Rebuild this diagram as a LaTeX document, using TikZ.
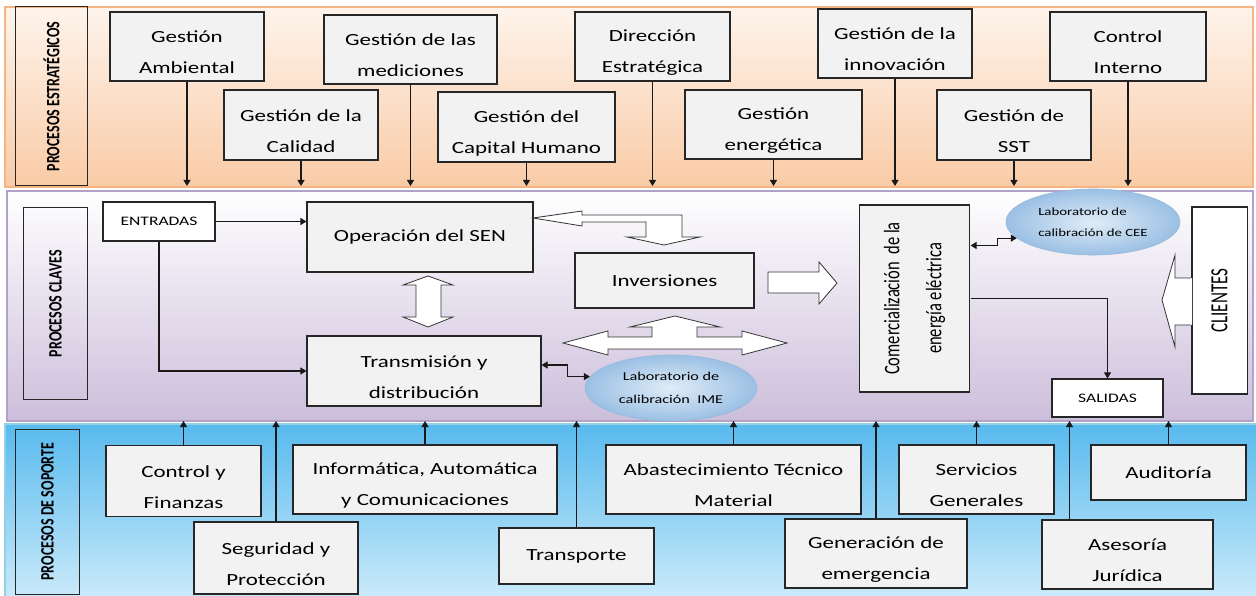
\documentclass[tikz,border=0pt]{standalone}
\usepackage{fontspec}
\setmainfont{Carlito}[FakeStretch=1.35]
\newfontfamily\plainfont{Carlito}
\usetikzlibrary{shapes.geometric, arrows.meta}
\newcommand\lup{\rule{0pt}{24pt}}

\begin{document}
\begin{tikzpicture}[x=1pt, y=-1pt, >={Triangle[length=6pt,width=7pt]},
  proc/.style={draw=black!85, line width=1.1pt, fill=boxgray, align=center, inner sep=0pt, font=\fontsize{17}{31}\selectfont},
  iobox/.style={draw=black!85, line width=1.1pt, fill=white, inner sep=0pt, font=\fontsize{13}{15}\selectfont},
  lab/.style={ellipse, draw=labline, line width=0.6pt, shading=radial, inner color=labin, outer color=labout, inner sep=0pt},
  bandlbl/.style={draw=black!85, line width=1pt, rotate=90, yscale=1.35, inner sep=0pt, font=\plainfont\bfseries\fontsize{14}{16}\selectfont},
  link/.style={line width=1.1pt, draw=black!90},
  blk/.style={draw=black!80, line width=0.8pt, fill=white, line join=miter}]
	\definecolor{boxgray}{RGB}{242,242,242}
	\definecolor{orline}{RGB}{246,180,130}
	\definecolor{ortop}{RGB}{254,244,236}
	\definecolor{orbot}{RGB}{249,203,166}
	\definecolor{puline}{RGB}{178,162,199}
	\definecolor{pubot}{RGB}{204,190,219}
	\definecolor{blline}{RGB}{146,208,232}
	\definecolor{bltop}{RGB}{88,186,238}
	\definecolor{blbot}{RGB}{205,235,250}
	\definecolor{labin}{RGB}{224,236,247}
	\definecolor{labout}{RGB}{155,192,228}
	\definecolor{labline}{RGB}{150,185,220}
	\useasboundingbox (0,0) rectangle (1256,596);
	\draw[draw=orline, line width=2.5pt, top color=ortop, bottom color=orbot] (5,7) rectangle (1253,187);
	\draw[draw=puline, line width=2.5pt, top color=white, bottom color=pubot] (7,191) rectangle (1253,421);
	\draw[draw=blline, line width=2pt, top color=bltop, bottom color=blbot] (5,424) rectangle (1258,602);
	\coordinate (sbot) at (0,186);
	\coordinate (stop) at (0,421);
	\node (lbe) at (51.5,96.5) [bandlbl, minimum width=179pt, minimum height=54pt] {PROCESOS ESTRATÉGICOS};
	\node (lbc) at (55.5,303.5) [bandlbl, minimum width=191pt, minimum height=48pt] {PROCESOS CLAVES};
	\node (lbs) at (47.5,511.5) [bandlbl, minimum width=165pt, minimum height=48pt] {PROCESOS DE SOPORTE};
	\node (amb) at (187,46.5) [proc, minimum width=154pt, minimum height=69pt] {\lup Gestión\\Ambiental};
	\node (cal) at (301,125) [proc, minimum width=154pt, minimum height=70pt] {\lup Gestión de la\\Calidad};
	\node (med) at (410.5,49.5) [proc, minimum width=173pt, minimum height=69pt] {\lup Gestión de las\\mediciones};
	\node (cap) at (526.5,127) [proc, minimum width=177pt, minimum height=70pt] {\lup Gestión del\\Capital Humano};
	\node (dir) at (652.5,46.5) [proc, minimum width=155pt, minimum height=69pt] {\lup Dirección\\Estratégica};
	\node (ene) at (773.5,124.5) [proc, minimum width=177pt, minimum height=69pt] {\lup Gestión\\energética};
	\node (inn) at (895,43.5) [proc, minimum width=154pt, minimum height=69pt] {\lup Gestión de la\\innovación};
	\node (sst) at (1014,125) [proc, minimum width=154pt, minimum height=70pt] {\lup Gestión de\\SST};
	\node (cin) at (1128,46.5) [proc, minimum width=156pt, minimum height=69pt] {\lup Control\\Interno};
	\draw[link,->] (amb.south) -- (amb.south |- sbot);
	\draw[link,->] (cal.south) -- (cal.south |- sbot);
	\draw[link,->] (med.south) -- (med.south |- sbot);
	\draw[link,->] (cap.south) -- (cap.south |- sbot);
	\draw[link,->] (dir.south) -- (dir.south |- sbot);
	\draw[link,->] (ene.south) -- (ene.south |- sbot);
	\draw[link,->] (inn.south) -- (inn.south |- sbot);
	\draw[link,->] (sst.south) -- (sst.south |- sbot);
	\draw[link,->] (cin.south) -- (cin.south |- sbot);
	\node (ent) at (159,221.5) [iobox, minimum width=112pt, minimum height=39pt] {ENTRADAS};
	\node (op) at (420,237) [proc, minimum width=226pt, minimum height=70pt] {Operación del SEN};
	\node (trans) at (424,371) [proc, minimum width=234pt, minimum height=70pt] {\lup Transmisión y\\distribución};
	\node (inv) at (664.5,280.5) [proc, minimum width=179pt, minimum height=55pt] {Inversiones};
	\node (com) at (914.5,298.5) [proc, rotate=90, yscale=1.35, minimum width=187pt, minimum height=82pt, font=\plainfont\fontsize{16.5}{31}\selectfont] {Comercialización\ \ de la\\energía eléctrica};
	\node (sal) at (1107.5,398) [iobox, minimum width=111pt, minimum height=38pt] {SALIDAS};
	\node (cli) at (1219.5,300.5) [iobox, rotate=90, yscale=1.45, minimum width=187pt, minimum height=38pt, font=\plainfont\fontsize{17}{20}\selectfont] {CLIENTES};
	\node (ime) at (671,388) [lab, minimum width=172pt, minimum height=66pt, align=center, font=\fontsize{12}{23}\selectfont] {Laboratorio de\\calibración\ \ IME};
	\node (cee) at (1093,222) [lab, minimum width=174pt, minimum height=66pt, align=left, font=\fontsize{11}{21}\selectfont] {Laboratorio de\\calibración de CEE};
	\draw[link,->] (ent.east) -- (ent.east -| op.west);
	\draw[link,->] (ent.south) |- (trans.west);
	\draw[link,<->] ([yshift=6pt]trans.east) -- ++(26,0) |- (ime.172);
	\draw[link,<->] ([yshift=53pt]com.south) -- ++(27,0) |- (cee.192);
	\draw[link,->] (com.south) -| (sal.north);
	\draw[blk] (533,218) -- (582,211) -- (582,215) -- (682,215) -- (682,237) -- (700,237) -- (664,245) -- (627,237) -- (646,237) -- (646,222) -- (582,222) -- (582,226) -- cycle;
	\draw[blk] (428,276) -- (453,285) -- (441,285) -- (441,317) -- (453,317) -- (428,327) -- (403,317) -- (416,317) -- (416,285) -- (403,285) -- cycle;
	\draw[blk] (768,272) -- (819,272) -- (819,262) -- (837,283) -- (819,304) -- (819,293) -- (768,293) -- cycle;
	\draw[blk] (563,343) -- (608,331) -- (608,337) -- (652,337) -- (652,327) -- (630,327) -- (675,316) -- (720,327) -- (697,327) -- (697,337) -- (742,337) -- (742,331) -- (787,343) -- (742,355) -- (742,349) -- (608,349) -- (608,355) -- cycle;
	\fill[white] ([xshift=1pt]cli.north |- 0,278) -- (1175,278) -- (1175,255) -- (1162,300) -- (1175,347) -- (1175,325) -- ([xshift=1pt]cli.north |- 0,325) -- cycle;
	\draw[blk, fill=none] (cli.north |- 0,278) -- (1175,278) -- (1175,255) -- (1162,300) -- (1175,347) -- (1175,325) -- (cli.north |- 0,325);
	\node (cfi) at (183.5,481) [proc, minimum width=155pt, minimum height=71pt] {\lup Control y\\Finanzas};
	\node (seg) at (276,558) [proc, minimum width=164pt, minimum height=72pt] {\lup Seguridad y\\Protección};
	\node (inf) at (425,479.5) [proc, minimum width=264pt, minimum height=69pt] {\lup Informática, Automática\\y Comunicaciones};
	\node (tra) at (576.5,556) [proc, minimum width=155pt, minimum height=56pt] {Transporte};
	\node (aba) at (733.5,479.5) [proc, minimum width=255pt, minimum height=69pt] {\lup Abastecimiento Técnico\\Material};
	\node (gen) at (876,553.5) [proc, minimum width=182pt, minimum height=69pt] {\lup Generación de\\emergencia};
	\node (ser) at (976.5,479.5) [proc, minimum width=155pt, minimum height=69pt] {\lup Servicios\\Generales};
	\node (ase) at (1127.5,554.5) [proc, minimum width=171pt, minimum height=69pt] {\lup Asesoría\\Jurídica};
	\node (aud) at (1168.5,472.5) [proc, minimum width=155pt, minimum height=55pt] {Auditoría};
	\coordinate (asetop) at ([xshift=-58pt]ase.north);
	\draw[link,->] (cfi.north) -- (cfi.north |- stop);
	\draw[link,->] (seg.north) -- (seg.north |- stop);
	\draw[link,->] (inf.north) -- (inf.north |- stop);
	\draw[link,->] (tra.north) -- (tra.north |- stop);
	\draw[link,->] (aba.north) -- (aba.north |- stop);
	\draw[link,->] (gen.north) -- (gen.north |- stop);
	\draw[link,->] (ser.north) -- (ser.north |- stop);
	\draw[link,->] (asetop) -- (asetop |- stop);
	\draw[link,->] (aud.north) -- (aud.north |- stop);
\end{tikzpicture}
\end{document}
